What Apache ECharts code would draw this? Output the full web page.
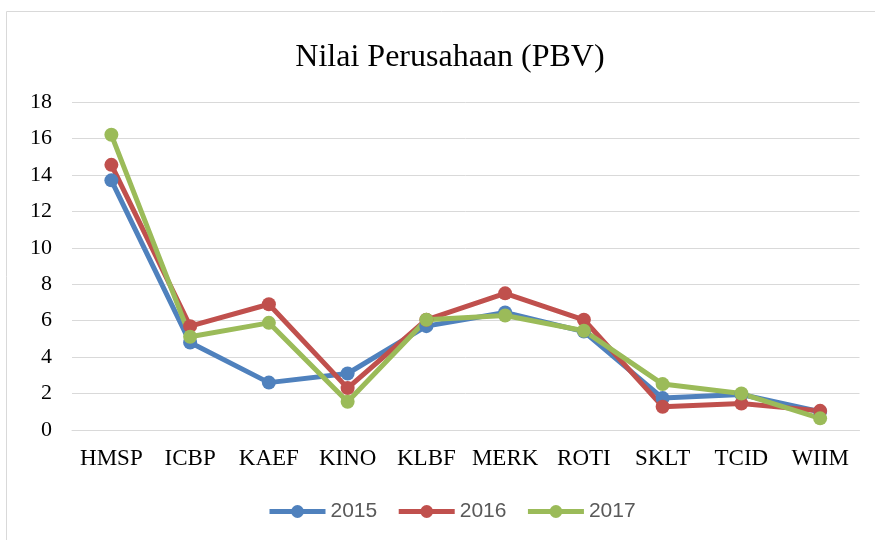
<!DOCTYPE html>
<html>
<head>
<meta charset="utf-8">
<script src="https://cdn.jsdelivr.net/npm/echarts@6/dist/echarts.min.js"></script>
<style>html,body{margin:0;padding:0;background:#fff;}#c{width:875px;height:540px;}</style>
</head>
<body>
<div id="c"></div>
<script>
var categories = ['HMSP','ICBP','KAEF','KINO','KLBF','MERK','ROTI','SKLT','TCID','WIIM'];
var s2015 = [13.7, 4.8, 2.6, 3.1, 5.7, 6.45, 5.4, 1.75, 1.95, 1.0];
var s2016 = [14.55, 5.7, 6.9, 2.3, 6.05, 7.5, 6.05, 1.28, 1.45, 1.05];
var s2017 = [16.2, 5.12, 5.88, 1.55, 6.05, 6.28, 5.45, 2.52, 2.0, 0.64];
var yTicks = {min: 0, max: 18, interval: 2};

var colors = ['#4F81BD', '#C0504D', '#9BBB59'];
function mk(name, data, i) {
  return {
    name: name, type: 'line', data: data,
    symbol: 'circle', symbolSize: 14,
    lineStyle: {width: 5, color: colors[i]},
    itemStyle: {color: colors[i]},
    emphasis: {disabled: true}
  };
}
var chart = echarts.init(document.getElementById('c'));
chart.setOption({
  animation: false,
  graphic: [{type: 'rect', shape: {x: 6.5, y: 11.5, width: 880, height: 540}, style: {fill: 'none', stroke: '#d9d9d9', lineWidth: 1}}],
  title: {
    text: 'Nilai Perusahaan (PBV)', left: 445, textAlign: 'center', top: 37,
    textStyle: {fontFamily: 'Liberation Serif', fontSize: 32, fontWeight: 'normal', color: '#000'}
  },
  legend: {
    left: 262, top: 496, itemWidth: 56, itemHeight: 16, itemGap: 19,
    lineStyle: {width: 5},
    textStyle: {fontFamily: 'Liberation Sans', fontSize: 21, color: '#595959'},
    data: ['2015','2016','2017']
  },
  grid: {left: 72, right: 15.5, top: 102, bottom: 110, containLabel: false},
  xAxis: {
    type: 'category', data: categories, boundaryGap: true,
    axisLine: {lineStyle: {color: '#d9d9d9', width: 1}},
    axisTick: {show: false},
    axisLabel: {interval: 0, fontFamily: 'Liberation Serif', fontSize: 23, color: '#000', margin: 17}
  },
  yAxis: {
    type: 'value', min: yTicks.min, max: yTicks.max, interval: yTicks.interval,
    axisLine: {show: false}, axisTick: {show: false},
    splitLine: {lineStyle: {color: '#d9d9d9', width: 1}},
    axisLabel: {fontFamily: 'Liberation Serif', fontSize: 22, color: '#000', margin: 20}
  },
  series: [mk('2015', s2015, 0), mk('2016', s2016, 1), mk('2017', s2017, 2)]
});
</script>
</body>
</html>
